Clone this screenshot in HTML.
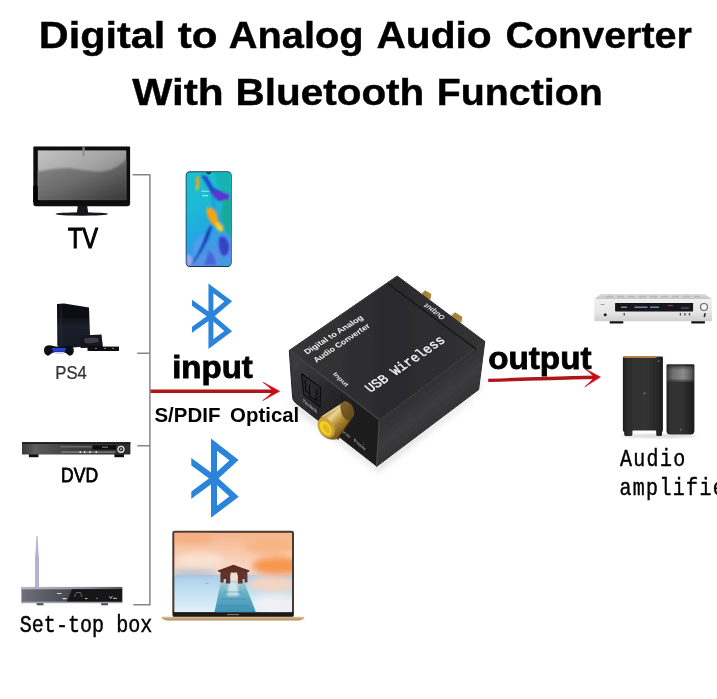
<!DOCTYPE html>
<html><head><meta charset="utf-8"><title>Digital to Analog Audio Converter With Bluetooth Function</title>
<style>
html,body{margin:0;padding:0;background:#fff;}
body{width:717px;height:699px;overflow:hidden;}
svg{display:block;}
text{font-family:"Liberation Sans",sans-serif;}
text.m{font-family:"Liberation Mono",monospace;}
</style></head><body>
<svg width="717" height="699" viewBox="0 0 717 699">
<rect width="717" height="699" fill="#fff"/>
<defs>
<linearGradient id="tvScr" x1="0" y1="0" x2="1" y2="1">
<stop offset="0" stop-color="#c4c4c4"/><stop offset="0.45" stop-color="#a4a4a4"/><stop offset="1" stop-color="#6a6a6a"/>
</linearGradient>
<linearGradient id="tvWave" x1="0" y1="0" x2="0.9" y2="1">
<stop offset="0" stop-color="#8c8c8c"/><stop offset="0.5" stop-color="#6c6c6c"/><stop offset="1" stop-color="#3a3a3a"/>
</linearGradient>
<filter id="b04" x="-5%" y="-5%" width="110%" height="110%"><feGaussianBlur stdDeviation="0.4"/></filter>
<filter id="b05" x="-10%" y="-10%" width="120%" height="120%"><feGaussianBlur stdDeviation="0.5"/></filter>
<filter id="b08" x="-10%" y="-10%" width="120%" height="120%"><feGaussianBlur stdDeviation="0.8"/></filter>
<filter id="b12" x="-10%" y="-10%" width="120%" height="120%"><feGaussianBlur stdDeviation="1.2"/></filter>
<filter id="b2" x="-20%" y="-20%" width="140%" height="140%"><feGaussianBlur stdDeviation="2"/></filter>
<filter id="b3" x="-20%" y="-20%" width="140%" height="140%"><feGaussianBlur stdDeviation="3"/></filter>
<clipPath id="tvClip"><rect x="37.6" y="150.2" width="88.9" height="50"/></clipPath>
</defs>
<g id="tv" filter="url(#b04)">
<path d="M34.3 146.4 H129.1 Q130.1 146.4 130.1 147.4 V203.6 Q130.1 206.2 127.5 206.2 H35.9 Q33.3 206.2 33.3 203.6 V147.4 Q33.3 146.4 34.3 146.4Z" fill="#0b0b0d"/>
<rect x="37.8" y="150.4" width="88.5" height="49.6" fill="url(#tvScr)"/>
<g clip-path="url(#tvClip)"><path d="M37 171.6 C48 170 60 167.6 72 168.6 C86 170 96 173.6 108 170.6 C117 168 123 163 127 158 V201 H37Z" fill="url(#tvWave)" filter="url(#b08)"/></g>
<rect x="33.3" y="186" width="4.6" height="16" fill="#050505"/>
<rect x="82.3" y="147" width="2.6" height="9.5" rx="1" fill="#8d8d8d" opacity="0.85"/>
<path d="M77.8 206 H87.2 L88.2 213 H76.8Z" fill="#15131a"/>
<ellipse cx="81.8" cy="214" rx="26.2" ry="1.7" fill="#17151c"/>
<path d="M40 207.2 H124" stroke="#555" stroke-width="0.8" opacity="0.5" filter="url(#b05)"/>
</g>
<g id="lines" stroke="#868686" stroke-width="1.5" fill="none">
<path d="M132.6 174.8H149.9V604.8H133.2M137.2 353.3H150M137.4 445.7H150"/>
</g>
<g id="arrows" fill="none" stroke-linecap="butt" filter="url(#b04)">
<path d="M150.5 391.2H276" stroke="#b01218" stroke-width="3.5"/>
<path d="M263 382.3 L279.6 391.2 L262.8 400.6 Q268.6 396.2 272.4 392.2 L272.4 390.2 Q268.6 386.4 263 382.3Z" fill="#cc1016" stroke="#cc1016" stroke-width="0.7" stroke-linejoin="round"/>
<path d="M488.2 380.4 Q540 378.6 597 377.3" stroke="#b01218" stroke-width="3.4"/>
<path d="M585 368.8 L600.4 377.1 L584.8 386.8 Q590.4 382.2 593.6 378.3 L593.5 376.3 Q590 372.6 585 368.8Z" fill="#cc1016" stroke="#cc1016" stroke-width="0.7" stroke-linejoin="round"/>
</g>
<defs>
<linearGradient id="psBody" x1="0" y1="0" x2="0" y2="1">
<stop offset="0" stop-color="#0c0c11"/><stop offset="0.36" stop-color="#121219"/><stop offset="0.5" stop-color="#1c202c"/><stop offset="1" stop-color="#171a24"/>
</linearGradient>
</defs>
<g id="ps4" filter="url(#b05)">
<path d="M57 304 L64 303.6 L89 307.4 L90.4 346 L62 348.5 L57.3 346Z" fill="url(#psBody)"/>
<path d="M60.8 304.3 L61.4 347.6" stroke="#2a2c36" stroke-width="0.8" fill="none"/>
<path d="M81 335.5 L101.5 334.6 L103 347.5 L80.5 348Z" fill="#14151b"/>
<path d="M84 338.5 L92 337.6 L98 338 L99 342 L90 343.5 L85 343Z" fill="#4a4d58" opacity="0.7"/>
<path d="M87.5 346.6 H119 V351 H87.5Z" fill="#0d0e14"/>
<path d="M95 348.4H97M104 348.4H106M112 348.4H114" stroke="#80838f" stroke-width="1"/>
<path d="M44 349.6 C44.2 346 47.6 344.6 51 345.4 L56 346.6 L62.5 346.6 L67 345.4 C70.6 344.8 73.6 346.4 73.8 350 C74 353.6 72 356 69 355.6 L65.4 352.8 H52.4 L48.8 355.6 C46 356 43.8 353.6 44 349.6Z" fill="#101119"/>
<path d="M52 348 H66 L65 351.8 H53Z" fill="#2a3fd0"/>
<path d="M53.6 352 H64.6 L63 354 H55.4Z" fill="#cfd6f5"/>
</g>
<defs>
<linearGradient id="dvdBody" x1="0" y1="0" x2="1" y2="0">
<stop offset="0" stop-color="#3a3a3a"/><stop offset="0.12" stop-color="#5c5c5c"/><stop offset="0.4" stop-color="#444"/><stop offset="1" stop-color="#2c2c2c"/>
</linearGradient>
</defs>
<g id="dvd" filter="url(#b05)">
<rect x="28.9" y="454" width="9.6" height="3.2" fill="#111"/>
<rect x="114.4" y="454" width="9.6" height="3.2" fill="#111"/>
<rect x="22" y="442.2" width="108.4" height="12.3" rx="0.8" fill="url(#dvdBody)"/>
<rect x="22" y="442.2" width="108.4" height="1.8" fill="#1a1a1a"/>
<rect x="60.3" y="446.4" width="31.4" height="0.9" fill="#8a8a8a"/>
<rect x="92.6" y="445.2" width="23.6" height="4.4" fill="#0a0a0a"/>
<rect x="102" y="446.6" width="6" height="1.2" fill="#777"/>
<rect x="61.2" y="451.3" width="54" height="1.6" fill="#8d8d8d" opacity="0.75"/>
<path d="M79.5 452.1h1.6M83.9 452.1h1.6M89.1 452.1h1.6M95.5 452.1h1.6" stroke="#e8e8e8" stroke-width="1.6"/>
<circle cx="121" cy="449.3" r="3.6" fill="#e6e6e6"/>
<circle cx="121" cy="449.3" r="2.3" fill="#2a2a2a"/>
<circle cx="121" cy="449.3" r="1" fill="#bbb"/>
</g>
<defs>
<linearGradient id="stbBody" x1="0" y1="0" x2="1" y2="0">
<stop offset="0" stop-color="#70707c"/><stop offset="0.25" stop-color="#5a5a64"/><stop offset="0.5" stop-color="#45454d"/><stop offset="1" stop-color="#1b1b1f"/>
</linearGradient>
<linearGradient id="stbTop" x1="0" y1="0" x2="1" y2="0">
<stop offset="0" stop-color="#b8b8c8"/><stop offset="0.6" stop-color="#9494a4"/><stop offset="1" stop-color="#55555f"/>
</linearGradient>
<linearGradient id="stbAnt" x1="0" y1="0" x2="1" y2="0">
<stop offset="0" stop-color="#8c8cb4"/><stop offset="0.5" stop-color="#c4c4e0"/><stop offset="1" stop-color="#8888b0"/>
</linearGradient>
</defs>
<g id="stb" filter="url(#b05)">
<path d="M36.4 536 H37.6 L38.2 550 L38.7 558 V587 H35.3 V558 L35.8 550Z" fill="url(#stbAnt)"/>
<rect x="36.7" y="603" width="6.8" height="2.3" fill="#55555f"/>
<rect x="101.2" y="603" width="6.8" height="2.3" fill="#55555f"/>
<rect x="21.4" y="586.9" width="100.8" height="16.2" rx="0.8" fill="url(#stbBody)"/>
<rect x="21.4" y="586.9" width="100.8" height="2.4" fill="url(#stbTop)"/>
<rect x="21.4" y="601.6" width="100.8" height="1.6" fill="#a2a2b2"/>
<path d="M72 589.3 H122.2 V601.6 H67Z" fill="#121216"/>
<path d="M57 593.5h4.5M62.5 598.6h4" stroke="#d8d8e0" stroke-width="1.1"/>
<path d="M74 597 l2.5 -4.5 h4 l1.5 4.5" stroke="#70707c" stroke-width="0.9" fill="none"/>
<path d="M85 598.6h2.5M96.5 598.3h1.2M109.5 596.4l1.2 2 1.6 -2.2M113 598.3h4" stroke="#c8c8d4" stroke-width="1" fill="none"/>
</g>
<defs>
<linearGradient id="phBg" x1="0" y1="0" x2="0.25" y2="1">
<stop offset="0" stop-color="#1cc0cc"/><stop offset="0.4" stop-color="#1bb9d6"/><stop offset="0.7" stop-color="#25a6e2"/><stop offset="1" stop-color="#5b8fe6"/>
</linearGradient>
<clipPath id="phClip"><rect x="186.5" y="172.2" width="44.5" height="93.8" rx="3.4"/></clipPath>
</defs>
<g id="phone">
<rect x="185.7" y="171.2" width="46" height="95.8" rx="4.2" fill="#14384e"/>
<rect x="186.5" y="172.2" width="44.5" height="93.8" rx="3.4" fill="url(#phBg)"/>
<g clip-path="url(#phClip)">
<g filter="url(#b08)">
<path d="M214 172 H231 V196 L224 193 L218 186Z" fill="#15b4b0"/>
<path d="M223 200 L231 196 V238 L226 232 L221 216Z" fill="#14ab96"/>
<path d="M200.8 175 L206.5 176 L213.6 188 L229.7 194.5 L228.5 199.5 L218.5 201 L212 194.5 L206.5 184Z" fill="#2544c4"/>
<path d="M213.6 190 L229.7 194.5 L228.5 199.5 L218.5 201 L213 196Z" fill="#5a34d0"/>
<path d="M212 196 L215 212 L218 224" stroke="#1f7fd0" stroke-width="1.4" fill="none" opacity="0.8"/>
<path d="M195.4 177 L198.8 176.6 L199.4 183 L198.6 189.5 L195.6 188.5 L196.4 182Z" fill="#f3a51c"/>
<path d="M196 187 L198.8 188 L198 190.6 L195.4 189.6Z" fill="#a8d23a"/>
<path d="M206.5 208 C210 206.5 214 208.5 216.5 213 L218.5 222 C221.5 224 223.5 227.5 223 231 C220.5 232.5 217.5 230.5 216 227 C213 225 209.5 221.5 208 217 C207 214 206 211 206.5 208Z" fill="#f6a414"/>
<path d="M216.5 221.5 C220 222.5 223.4 226.5 223 231 C220 232.5 217 230 216 226.5Z" fill="#f7d229"/>
<path d="M219 238 C223 234 228 238 229 246 C229.5 252 227 256.5 222.5 256 C219.5 252 218 244 219 238Z" fill="#3542c6"/>
<path d="M193.6 248 C195 240 200 234.5 205 234 C204 242 200 252 196.5 258 C194 256 193 252 193.6 248Z" fill="#4d9ff0"/>
<path d="M212.2 224.5 C210 234 206 243 201.6 250 C198.6 255 195.5 259.6 192 263.6 C196.6 256.6 200.6 248.6 203.6 241 C206 234.6 208.6 228 212.2 224.5Z" fill="#1638b4" stroke="#1638b4" stroke-width="0.9"/>
<path d="M209 250 C213 254 216 259 216 265 H204 C206 260 208 255 209 250Z" fill="#3f5cd6" opacity="0.8"/>
<path d="M187 255 C190 254 192.5 257 192 262 L190 266 H187Z" fill="#a4a4f2"/>
<path d="M221 256 C225 256 229 259 231 263 V266 H219Z" fill="#2fa4dc" opacity="0.8"/>
</g>
<path d="M201.4 191.2h7.6M202.4 195.6h5.6" stroke="#d8f4ff" stroke-width="1.1" opacity="0.75" filter="url(#b05)"/>
<path d="M205.6 172 h6 q-1 2.4 -3 2.4 q-2 0 -3 -2.4Z" fill="#14384e"/>
</g>
</g>
<defs>
<clipPath id="btC1"><rect x="192" y="275" width="60" height="85"/></clipPath>
<clipPath id="btC2"><rect x="191.3" y="430" width="70" height="100"/></clipPath>
</defs>
<g id="bluetooth" fill="none" stroke="#2a84da" stroke-linejoin="miter" stroke-miterlimit="10" filter="url(#b05)">
<g clip-path="url(#btC1)" stroke-width="4.9">
<path d="M189 300.6 L210.9 316.2 L228.2 331.1 L210.9 344 V288.4 L228.2 301.3 L210.9 316.2 L189 331.8"/>
</g>
<g clip-path="url(#btC2)" stroke-width="6">
<path d="M188 459.2 L214 478.4 L234 496.6 L214 511.8 V444.6 L234 460.2 L214 478.4 L188 497.6"/>
</g>
</g>
<defs>
<linearGradient id="lpSky" x1="0" y1="0" x2="0" y2="1">
<stop offset="0" stop-color="#f6b58e"/><stop offset="0.45" stop-color="#f8c9ac"/><stop offset="0.8" stop-color="#f8d8c4"/><stop offset="1" stop-color="#e4d2d2"/>
</linearGradient>
<linearGradient id="lpWater" x1="0" y1="0" x2="0" y2="1">
<stop offset="0" stop-color="#a9cfe8"/><stop offset="0.4" stop-color="#bfe0f2"/><stop offset="1" stop-color="#e2f0f8"/>
</linearGradient>
<linearGradient id="lpPier" x1="0" y1="0" x2="0" y2="1">
<stop offset="0" stop-color="#a8cdd6"/><stop offset="0.4" stop-color="#68b0c6"/><stop offset="1" stop-color="#3c93b4"/>
</linearGradient>
<linearGradient id="lpBase" x1="0" y1="0" x2="0" y2="1">
<stop offset="0" stop-color="#dcc09a"/><stop offset="1" stop-color="#b08c58"/>
</linearGradient>
<clipPath id="lpClip"><rect x="174.2" y="532.6" width="117.8" height="79.6"/></clipPath>
</defs>
<g id="laptop">
<rect x="172.3" y="530.7" width="121.7" height="86.4" rx="2.4" fill="#4a3a30"/>
<rect x="173.2" y="611.6" width="119.9" height="5.2" fill="#1c1917"/>
<g clip-path="url(#lpClip)">
<rect x="174.2" y="532.6" width="117.8" height="43" fill="url(#lpSky)"/>
<rect x="174.2" y="575" width="117.8" height="37.4" fill="url(#lpWater)"/>
<g filter="url(#b3)">
<ellipse cx="278" cy="566" rx="26" ry="9" fill="#f59448" opacity="0.95"/>
<ellipse cx="270" cy="546" rx="26" ry="8" fill="#f7b27c" opacity="0.8"/>
<ellipse cx="192" cy="538" rx="22" ry="6" fill="#f4a878" opacity="0.7"/>
<ellipse cx="200" cy="560" rx="24" ry="7" fill="#fae6da" opacity="0.8"/>
<ellipse cx="272" cy="584" rx="24" ry="8" fill="#f8d4c0" opacity="0.95"/>
<ellipse cx="275" cy="604" rx="24" ry="9" fill="#f3f1f4" opacity="0.9"/>
<ellipse cx="193" cy="573" rx="24" ry="2.6" fill="#9fb8d4" opacity="0.9"/>
</g>
<path d="M221.2 580.5 H243.6 L256 612.5 H214.4Z" fill="url(#lpPier)" filter="url(#b05)"/>
<path d="M229 582 H237 L239 596 H227Z" fill="#eef4f4" opacity="0.7" filter="url(#b12)"/>
<path d="M224 592 H242M221.5 599 H245.5M218.5 606 H249" stroke="#2f7896" stroke-width="0.8" opacity="0.5" filter="url(#b05)"/>
<g filter="url(#b05)">
<path d="M217.8 570.6 L233.4 564.8 L249.6 570.6 L248.8 572 H218.6Z" fill="#5b2e27"/>
<path d="M220.4 571.6 H247.4 V582.6 H244.6 V579 H242.6 V583.6 H238 V575 H230.2 V583.6 H226 V579 H223.6 V582.6 H220.4Z" fill="#633229"/>
<rect x="230.6" y="572.6" width="6.6" height="8" fill="#f3ddd0"/>
</g>
<path d="M205 583.6h3.4" stroke="#8d9fb0" stroke-width="0.8" opacity="0.8"/>
</g>
<rect x="227" y="614.2" width="12" height="0.9" fill="#8a8a8a"/>
<path d="M161.6 616.8 H304.3 C304.5 618.8 302.5 620.3 299 620.4 H167 C163.5 620.3 161.4 618.8 161.6 616.8Z" fill="url(#lpBase)"/>
</g>
<defs>
<linearGradient id="cvTop" gradientUnits="userSpaceOnUse" x1="300" y1="350" x2="480" y2="345">
<stop offset="0" stop-color="#343436"/><stop offset="0.5" stop-color="#2b2b2d"/><stop offset="1" stop-color="#313133"/>
</linearGradient>
<linearGradient id="cvLeft" gradientUnits="userSpaceOnUse" x1="290" y1="375" x2="378" y2="445">
<stop offset="0" stop-color="#3a3a3c"/><stop offset="0.3" stop-color="#2c2c2e"/><stop offset="0.6" stop-color="#1e1e20"/><stop offset="1" stop-color="#1b1b1d"/>
</linearGradient>
<linearGradient id="cvRight" gradientUnits="userSpaceOnUse" x1="400" y1="390" x2="440" y2="440">
<stop offset="0" stop-color="#2a2a2c"/><stop offset="0.5" stop-color="#3b3b3d"/><stop offset="1" stop-color="#2c2c2e"/>
</linearGradient>
<linearGradient id="cvGold" gradientUnits="userSpaceOnUse" x1="326" y1="410" x2="346" y2="431">
<stop offset="0" stop-color="#8a6a24"/><stop offset="0.3" stop-color="#ecd690"/><stop offset="0.6" stop-color="#b48a32"/><stop offset="1" stop-color="#6a4e16"/>
</linearGradient>
<filter id="cvSh" x="-20%" y="-20%" width="140%" height="140%"><feGaussianBlur stdDeviation="3.5"/></filter>
</defs>
<g id="converter">
<path d="M293 399 L376 465 L479 389 L484 372 L470 400 L378 471 L293 407Z" fill="#9a9a9a" opacity="0.4" filter="url(#cvSh)"/>
<g filter="url(#b05)">
<!-- back RCA jacks -->
<path d="M421.8 293.4 L425 290.2 L431.3 294 L430.5 299.5 L423 298Z" fill="#a8843a"/>
<path d="M451.4 315.4 L455 312.2 L462.2 316.8 L461.5 322.5 L452.5 320Z" fill="#a8843a"/>
<!-- faces -->
<path d="M289.4 350.4 L397.2 276 L484.8 341.4 L379.5 420Z" fill="url(#cvTop)" stroke="#2e2e30" stroke-width="1" stroke-linejoin="round"/>
<path d="M289.3 350.4 L379.5 420 L376.5 466 L295.2 402.4 Q292.9 400.6 292.6 397.5Z" fill="url(#cvLeft)" stroke="#242426" stroke-width="1" stroke-linejoin="round"/>
<path d="M379.5 420 L484.8 341.4 L478.6 389.6 L376.5 466.5Z" fill="url(#cvRight)" stroke="#2c2c2e" stroke-width="1" stroke-linejoin="round"/>
<!-- edge highlights -->
<path d="M290.5 351 L379.5 420" stroke="#4c4c4e" stroke-width="1.4" fill="none" opacity="0.8"/>
<path d="M379.3 421 L376.6 466" stroke="#505052" stroke-width="1.2" fill="none" opacity="0.8"/>
<path d="M380.5 419.6 L484 342" stroke="#48484a" stroke-width="1" fill="none" opacity="0.7"/>
<path d="M387.7 283.6 L476.3 349.2" stroke="#151517" stroke-width="1.3" fill="none"/>
<path d="M290 350 L397 276.4" stroke="#3e3e40" stroke-width="1" fill="none" opacity="0.8"/>
<!-- optical port -->
<path d="M301.6 373.8 L320.7 387.4 L320 407 L303.6 394.2Z" fill="#2a2a2c" stroke="#0a0a0b" stroke-width="1.1" stroke-linejoin="round"/>
<path d="M305.2 379.6 L305.8 390.6 L309.6 393.6 M309.4 384.5 L309.8 396 L316 400.8 L315.8 389.6" fill="none" stroke="#0c0c0d" stroke-width="1.2"/>
<path d="M318.2 388.4 L317.8 403" fill="none" stroke="#0c0c0d" stroke-width="0.9"/>
<!-- RCA input -->
<path d="M332 409 L345.5 400.6 C352 400.6 356.2 406.5 355.2 414.5 L352 421 L338 440 L330 432Z" fill="#2a2212" opacity="0.9"/>
<path d="M321.5 416.2 L344.4 401.6 C350 401.8 354.4 407.5 353.6 415.6 L337 439 C330.5 441.6 321.5 437.4 318.4 430 C316.8 425 318 419.8 321.5 416.2Z" fill="url(#cvGold)"/>
<path d="M344.4 401.6 C350 401.8 354.4 407.5 353.6 415.6 L349.6 421.4 C343.5 419.6 339.6 412.6 340.6 404Z" fill="#5c4416" opacity="0.8"/>
<path d="M322.5 416.6 L339 406" stroke="#f0e0a8" stroke-width="1.6" opacity="0.7" fill="none" filter="url(#b05)"/>
<ellipse cx="326.2" cy="427.6" rx="7.4" ry="10.8" transform="rotate(-32 326.2 427.6)" fill="#c9a23a"/>
<ellipse cx="325.6" cy="428.2" rx="5" ry="8" transform="rotate(-32 325.6 428.2)" fill="#f2d024"/>
<ellipse cx="326.6" cy="428.8" rx="2.6" ry="5" transform="rotate(-32 326.6 428.8)" fill="#e0b81c"/>
<circle cx="363.6" cy="444.3" r="0.9" fill="#b02020"/>
</g>
</g>
<g id="convtext" filter="url(#b05)">
<text transform="matrix(0.8996 -0.5719 0.7413 0.6712 307.15 354.49)" font-size="8" font-weight="bold" fill="#f2f2f2" opacity="1">Digital to Analog</text>
<text transform="matrix(0.8675 -0.5751 0.7413 0.6712 316.38 362.74)" font-size="8" font-weight="bold" fill="#f2f2f2" opacity="1">Audio Converter</text>
<text stroke="#f2f2f2" stroke-width="0.35" class="m" transform="matrix(0.8408 -0.5734 0.8303 0.7517 370.57 392.83)" font-size="12.5" fill="#f2f2f2" opacity="1">USB Wireless</text>
<text transform="matrix(0.9811 0.9358 -0.8800 0.6600 332.41 374.13)" font-size="5.6" font-weight="bold" fill="#e0e0e0" opacity="1">Input</text>
<text transform="matrix(-0.9400 -0.6900 0.9200 -0.6900 445.84 317.37)" font-size="6.2" font-weight="bold" fill="#e0e0e0" opacity="1">Output</text>
<text transform="matrix(0.9270 0.7492 -0.0995 0.9950 302.40 401.60)" font-size="4.6" font-weight="bold" fill="#a8a8a8" opacity="1">Toslink</text>
<text transform="matrix(0.8593 0.7185 -0.0995 0.9950 353.79 441.32)" font-size="4.6" font-weight="bold" fill="#9a9a9a" opacity="1">Power</text>
<path d="M343 431.6 l2.2 1.9 M346.2 434.2 l3.6 3" stroke="#9a9a9a" stroke-width="2.2" stroke-dasharray="0.9 0.5" fill="none" opacity="0.8"/>
</g>
<defs>
<linearGradient id="rcFront" x1="0" y1="0" x2="0" y2="1">
<stop offset="0" stop-color="#f0f0f0"/><stop offset="0.6" stop-color="#e6e6e6"/><stop offset="1" stop-color="#cfcfcf"/>
</linearGradient>
<linearGradient id="rcTop" x1="0" y1="0" x2="0" y2="1">
<stop offset="0" stop-color="#dcdcdc"/><stop offset="1" stop-color="#c6c6c6"/>
</linearGradient>
</defs>
<g id="receiver" filter="url(#b05)">
<rect x="609.7" y="320.8" width="13.6" height="2.7" fill="#161616"/>
<rect x="691.3" y="320.8" width="13.6" height="2.7" fill="#161616"/>
<path d="M600.6 294.1 H704.9 L712.1 299.3 H594.3Z" fill="url(#rcTop)"/>
<path d="M606 296.6 H700" stroke="#b4b4b4" stroke-width="1.6" stroke-dasharray="7 4" fill="none" opacity="0.8"/>
<rect x="594.3" y="299.1" width="117.8" height="22.2" rx="0.8" fill="url(#rcFront)"/>
<rect x="615.1" y="303" width="78" height="8.4" rx="0.6" fill="#14141b"/>
<path d="M621 307.2h6M634.5 307.2h13M650 307.2h9" stroke="#7d90b8" stroke-width="1.4" fill="none" opacity="0.9"/>
<path d="M668 305.6h5" stroke="#a04848" stroke-width="1" fill="none"/>
<path d="M681 308h8" stroke="#5f6f96" stroke-width="1" fill="none"/>
<circle cx="704" cy="307" r="4.1" fill="#6a6a6a"/>
<circle cx="704" cy="307" r="2.9" fill="#f4f4f4"/>
<circle cx="605.2" cy="314.8" r="1.5" fill="#1a1a1a"/>
<path d="M600.5 304.5h4" stroke="#9a9a9a" stroke-width="0.9"/>
<path d="M624.2 313v2.6M680.4 313v2.6M684.9 313v2.6M689.5 313v2.6" stroke="#4a4a4a" stroke-width="1.3" fill="none"/>
<path d="M705.2 313.2 l-1 3.8" stroke="#2a2a2a" stroke-width="1.6" fill="none"/>
</g>
<defs>
<linearGradient id="spBig" x1="0" y1="0" x2="1" y2="0">
<stop offset="0" stop-color="#1c1c1c"/><stop offset="0.12" stop-color="#2e2e2e"/><stop offset="0.55" stop-color="#343434"/><stop offset="0.9" stop-color="#262626"/><stop offset="1" stop-color="#161616"/>
</linearGradient>
<linearGradient id="spSm" x1="0" y1="0" x2="1" y2="0">
<stop offset="0" stop-color="#1e1e1e"/><stop offset="0.15" stop-color="#333"/><stop offset="0.6" stop-color="#303030"/><stop offset="1" stop-color="#1a1a1a"/>
</linearGradient>
<linearGradient id="spGr" x1="0" y1="0" x2="1" y2="0">
<stop offset="0" stop-color="#3c3c3c"/><stop offset="0.2" stop-color="#6c6c6c"/><stop offset="0.6" stop-color="#8c8c8c"/><stop offset="0.9" stop-color="#5a5a5a"/><stop offset="1" stop-color="#333"/>
</linearGradient>
<linearGradient id="spGrV" x1="0" y1="0" x2="0" y2="1">
<stop offset="0" stop-color="#222" stop-opacity="0.5"/><stop offset="0.25" stop-color="#222" stop-opacity="0"/><stop offset="0.8" stop-color="#222" stop-opacity="0"/><stop offset="1" stop-color="#222" stop-opacity="0.7"/>
</linearGradient>
</defs>
<g id="speakers">
<ellipse cx="659" cy="436" rx="38" ry="2.2" fill="#bbb" opacity="0.5" filter="url(#b12)"/>
<g filter="url(#b05)">
<path d="M624.2 356.4 H661.6 Q662.9 356.4 662.9 357.8 V430 Q662.9 431.4 662 432 V434.6 Q662 436 660.6 436 H657.4 Q656.2 436 656.2 434.6 V431.6 Q656.2 430.6 655.2 430.6 H633.4 Q632.4 430.6 632.4 431.6 V434.6 Q632.4 436 631.2 436 H625.6 Q624.2 436 624.2 434.6 V432 Q622.9 431.4 622.9 430 V357.8 Q622.9 356.4 624.2 356.4Z" fill="url(#spBig)"/>
<path d="M623.6 357.2 H656.5" stroke="#c0782e" stroke-width="1.5" fill="none"/>
<circle cx="644.5" cy="393.3" r="1.1" fill="#6a6a6a"/>
<circle cx="658.6" cy="361.2" r="0.9" fill="#6a6a6a"/>
<path d="M667.8 364.3 H693.2 Q694.4 364.3 694.4 365.6 V430.8 Q694.4 434.4 690.8 434.4 H670.2 Q666.5 434.4 666.5 430.8 V365.6 Q666.5 364.3 667.8 364.3Z" fill="url(#spSm)"/>
<rect x="667" y="366.4" width="27" height="15.2" fill="url(#spGr)"/>
<rect x="667" y="366.4" width="27" height="15.2" fill="url(#spGrV)"/>
<circle cx="680.6" cy="429.6" r="0.9" fill="#777"/>
</g>
</g>
<g id="title" filter="url(#b04)">
<text transform="translate(38.80 47.6) scale(1.1185 1.02)" font-size="37" font-weight="bold" stroke="#000" stroke-width="0.4">Digital</text>
<text transform="translate(177.83 47.6) scale(1.1394 1.02)" font-size="37" font-weight="bold" stroke="#000" stroke-width="0.4">to</text>
<text transform="translate(228.82 47.6) scale(1.0752 1.02)" font-size="37" font-weight="bold" stroke="#000" stroke-width="0.4">Analog</text>
<text transform="translate(376.50 47.6) scale(1.0993 1.02)" font-size="37" font-weight="bold" stroke="#000" stroke-width="0.4">Audio</text>
<text transform="translate(505.50 47.6) scale(1.0669 1.02)" font-size="37" font-weight="bold" stroke="#000" stroke-width="0.4">Converter</text>
<text transform="translate(132.20 105.1) scale(1.1471 1.02)" font-size="37" font-weight="bold" stroke="#000" stroke-width="0.4">With</text>
<text transform="translate(235.46 105.1) scale(1.0945 1.02)" font-size="37" font-weight="bold" stroke="#000" stroke-width="0.4">Bluetooth</text>
<text transform="translate(436.64 105.1) scale(1.0638 1.02)" font-size="37" font-weight="bold" stroke="#000" stroke-width="0.4">Function</text>
</g>
<g id="labels" filter="url(#b04)">
<text transform="translate(172.17 377.5) scale(1.0819 1.0)" font-size="30.5" font-weight="bold" stroke="#000" stroke-width="0.8">input</text>
<text transform="translate(488.18 369.2) scale(1.0556 1.0)" font-size="31.5" font-weight="bold" stroke="#000" stroke-width="0.8">output</text>
<text transform="translate(154.48 422.2) scale(1.0494 1.0)" font-size="19.5" font-weight="bold">S/PDIF</text>
<text transform="translate(230.11 422.2) scale(1.0469 1.0)" font-size="19.5" font-weight="bold">Optical</text>
<text transform="translate(67.90 248.2) scale(0.8000 1.0)" font-size="29.5" stroke="#000" stroke-width="1.1">TV</text>
<text transform="translate(55.37 378.6) scale(0.9516 1.0)" font-size="17.5" fill="#303030" stroke="#303030" stroke-width="0.25">PS4</text>
<text transform="translate(61.04 482.3) scale(0.8361 1.0)" font-size="21" stroke="#000" stroke-width="0.8">DVD</text>
<text class="m" transform="translate(19.75 631.6) scale(1.0058 1.2)" font-size="20" stroke="#000" stroke-width="0.35">Set-top box</text>
<text class="m" transform="translate(619.9 466.1) scale(1 1.18)" font-size="20" letter-spacing="1.35" stroke="#000" stroke-width="0.35">Audio</text>
<text class="m" transform="translate(619.4 495.4) scale(1 1.18)" font-size="20" letter-spacing="1.35" stroke="#000" stroke-width="0.35">amplifie</text>
</g>
</svg>
</body></html>
